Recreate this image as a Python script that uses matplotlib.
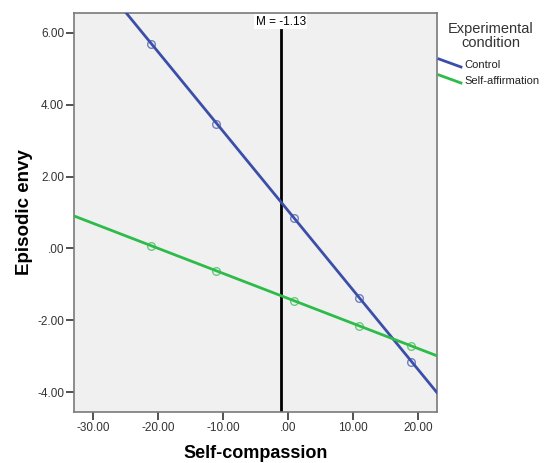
import numpy as np
import matplotlib
matplotlib.use("Agg")
import matplotlib.pyplot as plt
from matplotlib.lines import Line2D

plt.rcParams['font.family'] = ['Liberation Sans', 'DejaVu Sans']

# values
self_compassion = [-21, -11, 1, 11, 19]
control_envy = [5.70, 3.47, 0.85, -1.37, -3.15]
affirm_envy = [0.07, -0.62, -1.45, -2.15, -2.72]
mean_sc = -1.13
x_ticks = [-30, -20, -10, 0, 10, 20]
y_ticks = [-4, -2, 0, 2, 4, 6]

blue = '#3b4fa8'
green = '#2dbb4a'

fig = plt.figure(figsize=(5.44, 4.63), dpi=100)
ax = fig.add_axes([0.136, 0.110, 0.667, 0.862])
ax.set_facecolor('#f0f0f0')

xlim = (-32.9, 22.9)
ylim = (-4.55, 6.55)
xs = np.array(xlim)

for ys, col in [(control_envy, blue), (affirm_envy, green)]:
    slope, icpt = np.polyfit(self_compassion, ys, 1)
    ax.plot(xs, slope * xs + icpt, color=col, lw=2, zorder=3)
    ax.plot(self_compassion, ys, 'o', ms=5.5, mfc='none', mec=col,
            mew=1, alpha=0.7, zorder=4)

ax.axvline(mean_sc, ymax=0.957, color='black', lw=2, zorder=2)
ax.text(mean_sc, ylim[1] - 0.24, 'M = -1.13', ha='center', va='center',
        fontsize=8.5, color='black', zorder=6, clip_on=False,
        bbox=dict(facecolor='white', edgecolor='none', pad=1.2))

ax.set_xlim(xlim)
ax.set_ylim(ylim)
ax.set_xticks(x_ticks)
ax.set_xticklabels(['-30.00', '-20.00', '-10.00', '.00', '10.00', '20.00'])
ax.set_yticks(y_ticks)
ax.set_yticklabels(['-4.00', '-2.00', '.00', '2.00', '4.00', '6.00'])
ax.tick_params(direction='out', length=6, width=1.2, color='#333333',
               labelsize=8.5, labelcolor='#333333', pad=1)
for s in ax.spines.values():
    s.set_color('#7a7a7a')
    s.set_linewidth(1.2)

ax.set_xlabel('Self-compassion', fontsize=13, fontweight='bold', labelpad=8)
ax.set_ylabel('Episodic envy', fontsize=13.5, fontweight='bold', labelpad=3)

# legend outside on the right with diagonal handles
W, H = 544, 463
def fx(px):
    return px / W
def fy(py):
    return 1 - py / H

fig.text(fx(491), fy(36), 'Experimental\ncondition', ha='center', va='center',
         fontsize=10.5, color='#333333', linespacing=1.0)
for i, (lab, col) in enumerate([('Control', blue), ('Self-affirmation', green)]):
    y0 = 59 + i * 16
    fig.add_artist(Line2D([fx(439), fx(461)], [fy(y0), fy(y0 + 8)],
                          color=col, lw=2, transform=fig.transFigure))
    fig.text(fx(464), fy(y0 + 6), lab, ha='left', va='center',
             fontsize=8, color='#222222')

fig.savefig('out.png', dpi=100)
